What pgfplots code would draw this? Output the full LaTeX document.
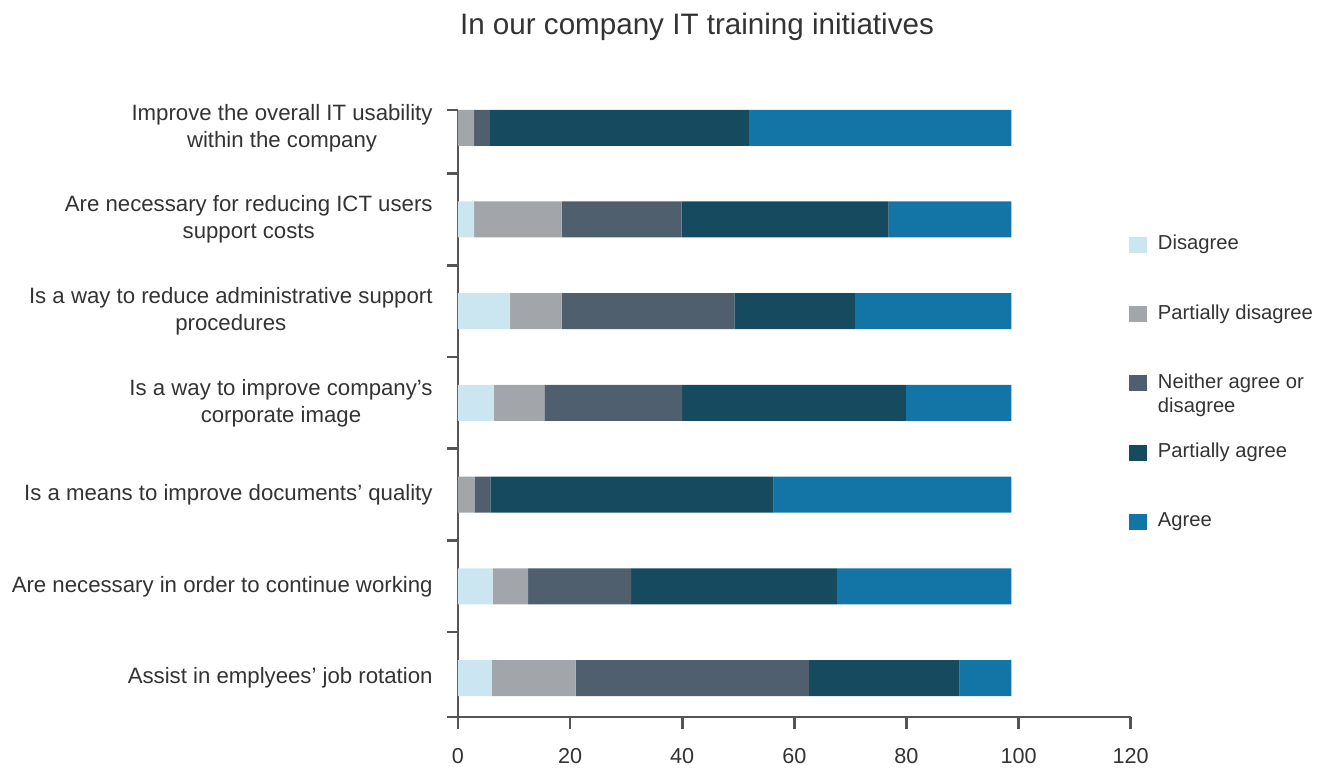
\documentclass[border=0pt]{standalone}
\usepackage{fontspec}
\setmainfont{Liberation Sans}
\usepackage{pgfplots}
\pgfplotsset{compat=1.18}
\definecolor{cDis}{HTML}{CBE6F0}
\definecolor{cPDis}{HTML}{A2A6AA}
\definecolor{cNei}{HTML}{4F5F6E}
\definecolor{cPAg}{HTML}{164B5F}
\definecolor{cAg}{HTML}{1374A6}
\definecolor{axisgray}{HTML}{555555}
\definecolor{textgray}{HTML}{333333}
\begin{document}
\begin{tikzpicture}
\begin{axis}[
  scale only axis, width=336.35pt, height=303.5pt,
  xbar stacked, bar width=18pt,
  xmin=0, xmax=120, ymin=-0.425, ymax=6.194,
  clip=false,
  xtick={0,20,...,120},
  ytick={0,...,6},
  yticklabels={
    {Assist in emplyees’ job rotation},
    {Are necessary in order to continue working},
    {Is a means to improve documents’ quality},
    {Is a way to improve company’s\\corporate image},
    {Is a way to reduce administrative support\\procedures},
    {Are necessary for reducing ICT users\\support costs},
    {Improve the overall IT usability\\within the company}},
  minor ytick={-0.424,0.5,1.5,2.5,3.5,4.5,5.5,6.193},
  axis x line*=bottom, axis y line*=left,
  axis line style={line width=1.3pt, color=axisgray},
  tick align=outside,
  major tick length=6pt, minor tick length=5.5pt,
  tick style={line width=1.3pt, color=axisgray},
  major y tick style={draw=none},
  /pgf/number format/assume math mode=true,
  xticklabel style={font=\fontsize{10.8}{13}\selectfont, text=textgray, inner sep=0pt, yshift=-9.5pt},
  yticklabel style={font=\fontsize{11.1}{13.5}\selectfont, text=textgray, align=center, inner sep=0pt, xshift=-6.5pt},
  title={In our company IT training initiatives},
  title style={at={(0.3553,1.1038)}, anchor=base, font=\fontsize{14.8}{17}\selectfont, text=textgray, inner sep=0pt},
  legend image code/.code={\fill[#1] (0pt,-4pt) rectangle (9pt,4pt);},
  legend cell align=left,
  legend style={at={(0.9975,0.7941)}, anchor=north west, draw=none, fill=none,
    inner sep=0pt, outer sep=0pt, row sep=24.6pt, column sep=5.5pt,
    font=\fontsize{10.1}{12.1}\selectfont, text=textgray,
    nodes={inner sep=0pt, text height=7.5pt, text depth=2.5pt, anchor=west}},
]
\addplot+[fill=cDis, draw=none] coordinates {(6.0,0) (6.2,1) (0,2) (6.4,3) (9.3,4) (2.9,5) (0,6)};
\addlegendentry{Disagree}
\addplot+[fill=cPDis, draw=none] coordinates {(15.0,0) (6.3,1) (3.0,2) (9.0,3) (9.2,4) (15.6,5) (2.9,6)};
\addlegendentry{Partially disagree}
\addplot+[fill=cNei, draw=none] coordinates {(41.6,0) (18.4,1) (2.8,2) (24.6,3) (30.8,4) (21.4,5) (2.8,6)};
\addlegendentry{\begin{tabular}[t]{@{}l@{}}Neither agree or\\disagree\end{tabular}}
\addplot+[fill=cPAg, draw=none] coordinates {(26.9,0) (36.7,1) (50.5,2) (39.9,3) (21.5,4) (36.9,5) (46.2,6)};
\addlegendentry{Partially agree}
\addplot+[fill=cAg, draw=none] coordinates {(9.2,0) (31.1,1) (42.4,2) (18.8,3) (27.9,4) (21.9,5) (46.8,6)};
\addlegendentry{Agree}
\path (rel axis cs:-0.6808,-0.0873) rectangle (rel axis cs:1.2963,1.1812);
\end{axis}
\end{tikzpicture}
\end{document}
